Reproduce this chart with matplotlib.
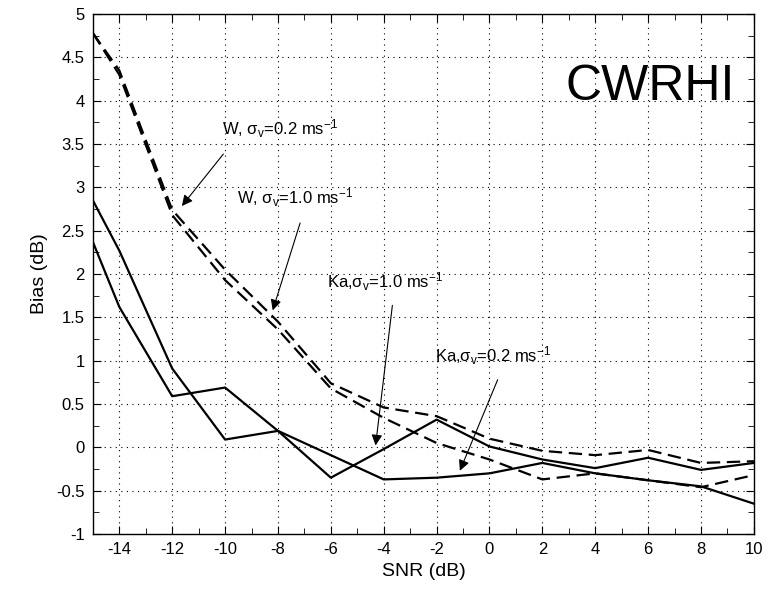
import numpy as np
import matplotlib
matplotlib.use('Agg')
import matplotlib.pyplot as plt
from matplotlib.ticker import MultipleLocator

plt.rcParams['font.family'] = ['Liberation Sans', 'DejaVu Sans']
plt.rcParams['axes.unicode_minus'] = False
plt.rcParams['mathtext.default'] = 'regular'

snr = [-15, -14, -12, -10, -8, -6, -4, -2, 0, 2, 4, 6, 8, 10]

# W band (dashed)
w_02 = [4.78, 4.35, 2.74, 2.05, 1.45, 0.74, 0.46, 0.36, 0.10, -0.04, -0.09, -0.03, -0.18, -0.16]
w_10 = [4.78, 4.30, 2.68, 1.93, 1.36, 0.68, 0.34, 0.05, -0.14, -0.37, -0.30, -0.38, -0.46, -0.32]
# Ka band (solid)
ka_02 = [2.37, 1.62, 0.59, 0.69, 0.19, -0.35, -0.02, 0.32, 0.01, -0.14, -0.24, -0.12, -0.26, -0.18]
ka_10 = [2.85, 2.27, 0.91, 0.09, 0.19, -0.09, -0.37, -0.35, -0.30, -0.18, -0.30, -0.38, -0.45, -0.65]

fig = plt.figure(figsize=(7.74, 5.99), dpi=100)
ax = fig.add_axes([0.120, 0.1085, 0.854, 0.868])

ax.plot(snr, w_02, 'k--', lw=1.6, dashes=(6, 3))
ax.plot(snr, w_10, 'k--', lw=1.6, dashes=(6, 3))
ax.plot(snr, ka_02, 'k-', lw=1.6)
ax.plot(snr, ka_10, 'k-', lw=1.6)

ax.set_xlim(-15, 10)
ax.set_ylim(-1, 5)
ax.xaxis.set_minor_locator(MultipleLocator(1))
ax.yaxis.set_minor_locator(MultipleLocator(0.25))
ax.set_xticks(np.arange(-14, 11, 2))
ax.set_yticks(np.arange(-1, 5.01, 0.5))
ax.set_yticklabels(['-1', '-0.5', '0', '0.5', '1', '1.5', '2', '2.5', '3', '3.5', '4', '4.5', '5'])
ax.tick_params(which='both', direction='in', top=True, right=True, labelsize=12)
ax.tick_params(which='major', length=6, pad=6)
ax.tick_params(which='minor', length=4)
ax.grid(True, which='major', color='k', linestyle=(0, (1, 4)), linewidth=0.8)
for s in ax.spines.values():
    s.set_linewidth(1.0)

ax.set_xlabel('SNR (dB)', fontsize=14, labelpad=4)
ax.set_ylabel('Bias (dB)', fontsize=14, labelpad=6)

arrow = dict(arrowstyle='-|>', color='k', lw=0.8, mutation_scale=16)
ax.annotate('', xy=(-11.7, 2.76), xytext=(-10.0, 3.41), arrowprops=arrow)
ax.annotate('', xy=(-8.23, 1.55), xytext=(-7.13, 2.62), arrowprops=arrow)
ax.annotate('', xy=(-4.32, -0.01), xytext=(-3.66, 1.67), arrowprops=arrow)
ax.annotate('', xy=(-1.16, -0.30), xytext=(0.35, 0.81), arrowprops=arrow)

ax.text(-10.1, 3.68, r'W, $\sigma_{v}$=0.2 ms$^{-1}$', fontsize=12, va='center')
ax.text(-9.56, 2.88, r'W, $\sigma_{v}$=1.0 ms$^{-1}$', fontsize=12, va='center')
ax.text(-6.15, 1.91, r'Ka,$\sigma_{v}$=1.0 ms$^{-1}$', fontsize=12, va='center')
ax.text(-2.07, 1.06, r'Ka,$\sigma_{v}$=0.2 ms$^{-1}$', fontsize=12, va='center')

ax.text(9.3, 4.16, 'CWRHI', fontsize=36, ha='right', va='center')

plt.savefig('out.png', dpi=100)
